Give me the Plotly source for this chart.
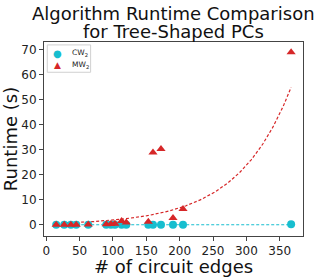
import numpy as np
import plotly.graph_objects as go

# Data
edges = [15, 27, 37, 45, 63, 90, 97, 103, 113, 120, 153, 160, 172, 190, 205, 367]
cw2_runtime = [0.05, 0.05, 0.05, 0.05, 0.05, 0.05, 0.05, 0.05, 0.05, 0.05, 0.05, 0.05, 0.05, 0.05, 0.05, 0.3]
mw2_runtime = [0.1, 0.1, 0.1, 0.1, 0.2, 0.3, 0.4, 0.5, 1.6, 1.0, 1.3, 29.0, 30.4, 2.8, 6.4, 69.0]
title_lines = ["Algorithm Runtime Comparison", "for Tree-Shaped PCs"]
series_names = ["CW<sub>2</sub>", "MW<sub>2</sub>"]

# Trend parameters
mw2_fit_a, mw2_fit_b = 0.56, 0.0125
cw2_fit_level = 0.1

CYAN = "#17becf"
RED = "#d62728"
FONT = "DejaVu Sans"

xs = np.linspace(min(edges), max(edges), 200)
mw2_fit = mw2_fit_a * np.exp(mw2_fit_b * xs)
cw2_fit = np.full_like(xs, cw2_fit_level)

fig = go.Figure()
fig.add_trace(go.Scatter(x=xs, y=cw2_fit, mode="lines", showlegend=False,
                         line=dict(color=CYAN, dash="3px,2px", width=1.2)))
fig.add_trace(go.Scatter(x=xs, y=mw2_fit, mode="lines", showlegend=False,
                         line=dict(color=RED, dash="3px,2px", width=1.2)))
fig.add_trace(go.Scatter(x=edges, y=cw2_runtime, mode="markers", name=series_names[0],
                         showlegend=False, marker=dict(symbol="circle", size=8, color=CYAN)))
fig.add_trace(go.Scatter(x=edges, y=mw2_runtime, mode="markers", name=series_names[1],
                         showlegend=False, marker=dict(symbol="triangle-up", size=8, color=RED)))

axis_common = dict(showline=True, linecolor="#444", linewidth=1, mirror=True,
                   ticks="outside", ticklen=4, tickcolor="#444", showgrid=False,
                   zeroline=False, automargin=False,
                   tickfont=dict(family=FONT, size=12, color="#222"))

fig.update_layout(
    width=323, height=277,
    margin=dict(l=44, r=20, t=42, b=41),
    paper_bgcolor="white", plot_bgcolor="white",
    showlegend=False,
    xaxis=dict(range=[-3.3, 384.8], tickvals=[0, 50, 100, 150, 200, 250, 300, 350],
               title=dict(text="# of circuit edges", font=dict(family=FONT, size=18, color="#111"),
                          standoff=2),
               **axis_common),
    yaxis=dict(range=[-4.4, 73.1], tickvals=[0, 10, 20, 30, 40, 50, 60, 70],
               title=dict(text="Runtime (s)", font=dict(family=FONT, size=18, color="#111"),
                          standoff=1),
               **axis_common),
)

# Title (two lines, matplotlib-like spacing)
for i, line in enumerate(title_lines):
    fig.add_annotation(text=line, xref="paper", yref="paper", x=0.5, y=1,
                       xanchor="center", yanchor="middle", yshift=29 - 18 * i,
                       showarrow=False, font=dict(family=FONT, size=18, color="#111"))

# Compact legend box (matplotlib style)
fig.add_shape(type="rect", xref="paper", yref="paper", x0=0.0127, x1=0.18, y0=0.844, y1=0.985,
              line=dict(color="#d0d0d0", width=1), fillcolor="rgba(255,255,255,0.8)")
legend_items = [("\u25CF", CYAN, 10), ("\u25B2", RED, 9)]
for i, ((sym, col, sz), name) in enumerate(zip(legend_items, series_names)):
    yy = 0.942 - 0.061 * i
    fig.add_annotation(text=sym, xref="paper", yref="paper", x=0.054, y=yy,
                       xanchor="center", yanchor="middle", showarrow=False,
                       font=dict(family=FONT, size=sz, color=col))
    fig.add_annotation(text=name, xref="paper", yref="paper", x=0.102, y=yy,
                       xanchor="left", yanchor="middle", showarrow=False,
                       font=dict(family=FONT, size=7.5, color="#222"))

fig.write_html("out.html",
               config={"displayModeBar": False},
               post_script="document.body.style.margin='0';document.body.style.overflow='hidden';")
